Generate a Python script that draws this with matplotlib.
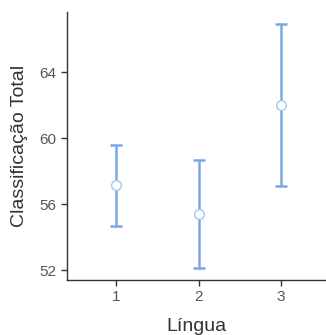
import matplotlib
matplotlib.use("Agg")
import matplotlib.pyplot as plt

plt.rcParams['font.family'] = ['Liberation Sans', 'DejaVu Sans']

# group means with confidence bounds
groups = [1, 2, 3]
means = [57.15, 55.4, 62.0]
lower = [54.67, 52.15, 57.08]
upper = [59.6, 58.67, 66.92]

blue = '#7aa6e6'

fig = plt.figure(figsize=(3.26, 3.35), dpi=100)
ax = fig.add_axes([67 / 326, 55 / 335, 259 / 326, 268 / 335])

err = [[m - lo for m, lo in zip(means, lower)], [up - m for m, up in zip(means, upper)]]
ax.errorbar(groups, means, yerr=err, fmt='none', ecolor=blue, elinewidth=1.8,
            capsize=4.5, capthick=1.8, zorder=2)
ax.plot(groups, means, 'o', markersize=7, markerfacecolor='white',
        markeredgecolor='#a9c5f0', markeredgewidth=1.0, linestyle='none', zorder=3)

ax.set_xlim(0.405, 3.545)
ax.set_ylim(51.4, 67.65)
ax.set_xticks(groups)
ax.set_yticks([52, 56, 60, 64])

for side in ['top', 'right']:
    ax.spines[side].set_visible(False)
for side in ['left', 'bottom']:
    ax.spines[side].set_color('#333333')
    ax.spines[side].set_linewidth(1.0)

ax.tick_params(colors='#333333', labelcolor='#555555', labelsize=11, length=4, width=1.0)
ax.set_xlabel('Língua', fontsize=14, color='#333333', labelpad=10)
ax.set_ylabel('Classificação Total', fontsize=14, color='#333333', labelpad=8)

fig.savefig('out.png', dpi=100)
